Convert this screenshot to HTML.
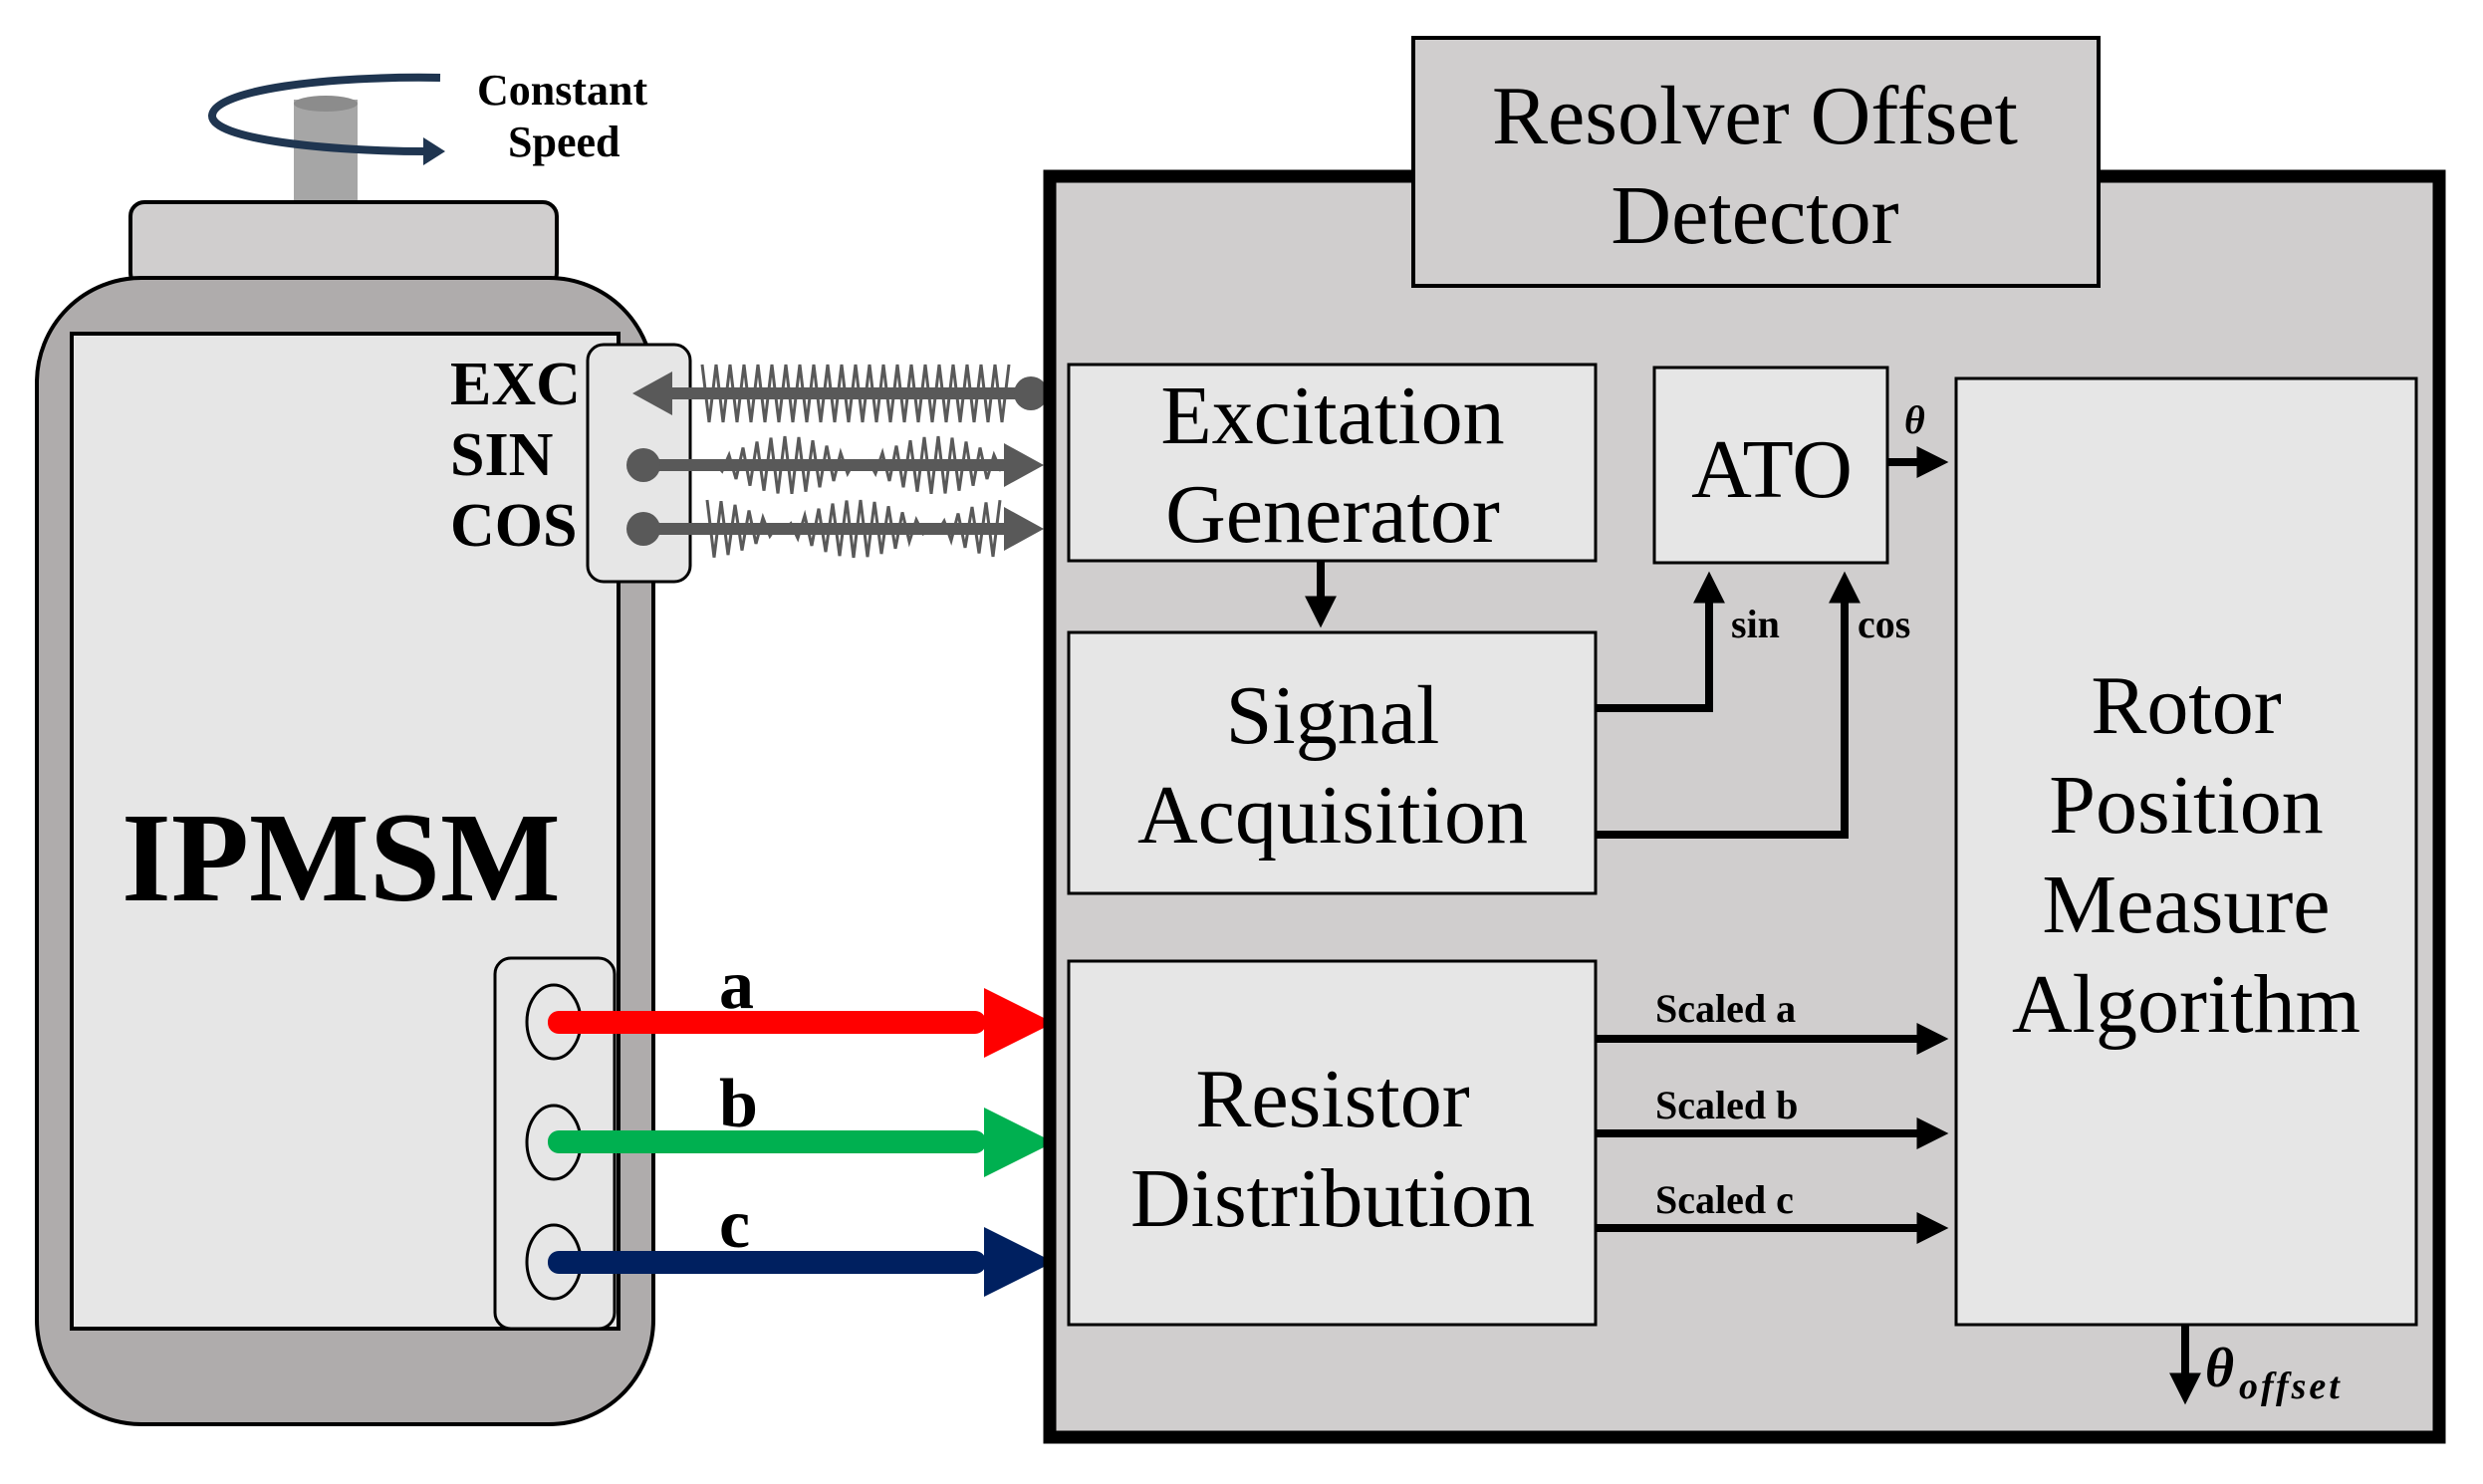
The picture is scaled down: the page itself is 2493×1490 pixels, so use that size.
<!DOCTYPE html>
<html><head><meta charset="utf-8"><style>
html,body{margin:0;padding:0;background:#fff;}
svg{display:block;}
text{font-family:"Liberation Serif",serif;}
</style></head><body>
<svg id="s" width="2493" height="1490" viewBox="0 0 2493 1490" xmlns="http://www.w3.org/2000/svg">
<defs>
<marker id="ah" markerWidth="4" markerHeight="4" refX="2.2" refY="2" orient="auto" markerUnits="strokeWidth"><path d="M0,0 L4,2 L0,4 z" fill="#000"/></marker>
</defs>
<!-- Motor -->
<rect x="295" y="100" width="64" height="105" fill="#a6a6a6"/>
<ellipse cx="327" cy="104" rx="32" ry="8" fill="#8c8c8c"/>
<path d="M442,78 C330,76 215,90 213,116 C212,140 330,152 430,152" fill="none" stroke="#1f3550" stroke-width="8"/>
<path d="M425,138 L447,152 L425,166 z" fill="#1f3550"/>
<text x="479" y="105" font-size="44" font-weight="bold">Constant</text>
<text x="510" y="157" font-size="44" font-weight="bold">Speed</text>
<rect x="131" y="203" width="428" height="85" rx="14" fill="#d0cece" stroke="#000" stroke-width="4"/>
<rect x="37" y="279" width="619" height="1151" rx="105" fill="#afacac" stroke="#000" stroke-width="4"/>
<rect x="72" y="335" width="549" height="999" fill="#e6e6e6" stroke="#000" stroke-width="4"/>
<text x="122" y="904" font-size="128" font-weight="bold">IPMSM</text>
<text x="452" y="406" font-size="62" font-weight="bold">EXC</text>
<text x="452" y="477" font-size="62" font-weight="bold">SIN</text>
<text x="452" y="548" font-size="62" font-weight="bold">COS</text>
<rect x="590" y="346" width="103" height="238" rx="16" fill="#e6e6e6" stroke="#000" stroke-width="3"/>
<rect x="497" y="962" width="120" height="372" rx="16" fill="#e6e6e6" stroke="#000" stroke-width="3"/>
<ellipse cx="556" cy="1026" rx="27" ry="37" fill="none" stroke="#000" stroke-width="3"/>
<ellipse cx="556" cy="1147" rx="27" ry="37" fill="none" stroke="#000" stroke-width="3"/>
<ellipse cx="556" cy="1267" rx="27" ry="37" fill="none" stroke="#000" stroke-width="3"/>
<!-- waves -->
<g id="waves" fill="none" stroke="#595959" stroke-width="3"></g>
<g fill="#595959">
<rect x="668" y="389" width="367" height="12"/><path d="M635,395 L675,373 L675,417 z"/><circle cx="1035" cy="395" r="17"/>
<rect x="645" y="461" width="370" height="12"/><path d="M1048,467 L1008,445 L1008,489 z"/><circle cx="646" cy="467" r="17"/>
<rect x="645" y="525" width="370" height="12"/><path d="M1048,531 L1008,509 L1008,553 z"/><circle cx="646" cy="531" r="17"/>
</g>
<!-- phase arrows -->
<g>
<rect x="550" y="1015" width="440" height="23" rx="11" fill="#ff0000"/><path d="M988,992 L1058,1027 L988,1062 z" fill="#ff0000"/>
<rect x="550" y="1135" width="440" height="23" rx="11" fill="#00b050"/><path d="M988,1112 L1058,1147 L988,1182 z" fill="#00b050"/>
<rect x="550" y="1256" width="440" height="23" rx="11" fill="#002060"/><path d="M988,1232 L1058,1267 L988,1302 z" fill="#002060"/>
</g>
<text x="722" y="1012" font-size="70" font-weight="bold">a</text>
<text x="722" y="1131" font-size="70" font-weight="bold">b</text>
<text x="722" y="1252" font-size="70" font-weight="bold">c</text>
<!-- Detector -->
<rect x="1054" y="177" width="1395" height="1266" fill="#d0cece" stroke="#000" stroke-width="13"/>
<rect x="1419" y="38" width="688" height="249" fill="#d0cece" stroke="#000" stroke-width="4"/>
<text x="1762" y="144" font-size="84" text-anchor="middle">Resolver Offset</text>
<text x="1762" y="244" font-size="84" text-anchor="middle">Detector</text>
<g fill="#e6e6e6" stroke="#000" stroke-width="3">
<rect x="1073" y="366" width="529" height="197"/>
<rect x="1661" y="369" width="234" height="196"/>
<rect x="1073" y="635" width="529" height="262"/>
<rect x="1073" y="965" width="529" height="365"/>
<rect x="1964" y="380" width="462" height="950"/>
</g>
<g font-size="84" text-anchor="middle">
<text x="1338" y="445">Excitation</text><text x="1338" y="544">Generator</text>
<text x="1338" y="746">Signal</text><text x="1338" y="846">Acquisition</text>
<text x="1338" y="1131">Resistor</text><text x="1338" y="1231">Distribution</text>
<text x="1779" y="499">ATO</text>
<text x="2195" y="736">Rotor</text><text x="2195" y="836">Position</text><text x="2195" y="936">Measure</text><text x="2195" y="1036">Algorithm</text>
</g>
<g fill="none" stroke="#000" stroke-width="8" marker-end="url(#ah)">
<line x1="1326" y1="563" x2="1326" y2="616"/>
<polyline points="1602,711 1716,711 1716,588"/>
<polyline points="1602,838 1852,838 1852,588"/>
<line x1="1895" y1="464" x2="1942" y2="464"/>
<line x1="1602" y1="1043" x2="1942" y2="1043"/>
<line x1="1602" y1="1138" x2="1942" y2="1138"/>
<line x1="1602" y1="1233" x2="1942" y2="1233"/>
<line x1="2194" y1="1330" x2="2194" y2="1396"/>
</g>
<g font-size="40" font-weight="bold">
<text x="1738" y="640">sin</text><text x="1865" y="640">cos</text>
<text x="1912" y="435" font-style="italic">θ</text>
<text x="1662" y="1026">Scaled a</text><text x="1662" y="1123">Scaled b</text><text x="1662" y="1218">Scaled c</text>
</g>
<text x="2214" y="1392" font-size="56" font-weight="bold" font-style="italic">θ</text>
<text x="2248" y="1404" font-size="38" font-weight="bold" font-style="italic" letter-spacing="3">offset</text>
</svg>
<script>
(function(){
var g=document.getElementById('waves');
function wave(y,x0,x1,per,amp,env){
 var d='',n=0;
 for(var x=x0;x<=x1;x+=per/2){
  var a=amp*env(x);
  var yy=y+((n%2)?a:-a);
  d+=(n?'L':'M')+x.toFixed(1)+','+yy.toFixed(1);
  n++;
 }
 var p=document.createElementNS('http://www.w3.org/2000/svg','path');
 p.setAttribute('d',d);g.appendChild(p);
}
wave(395,705,1014,14,29,function(){return 1;});
wave(467,718,1005,14,29,function(x){return Math.abs(Math.sin((x-715)/150*Math.PI));});
wave(531,710,1010,14,29,function(x){return Math.abs(Math.cos((x-710)/150*Math.PI));});
})();
</script>
</body></html>
